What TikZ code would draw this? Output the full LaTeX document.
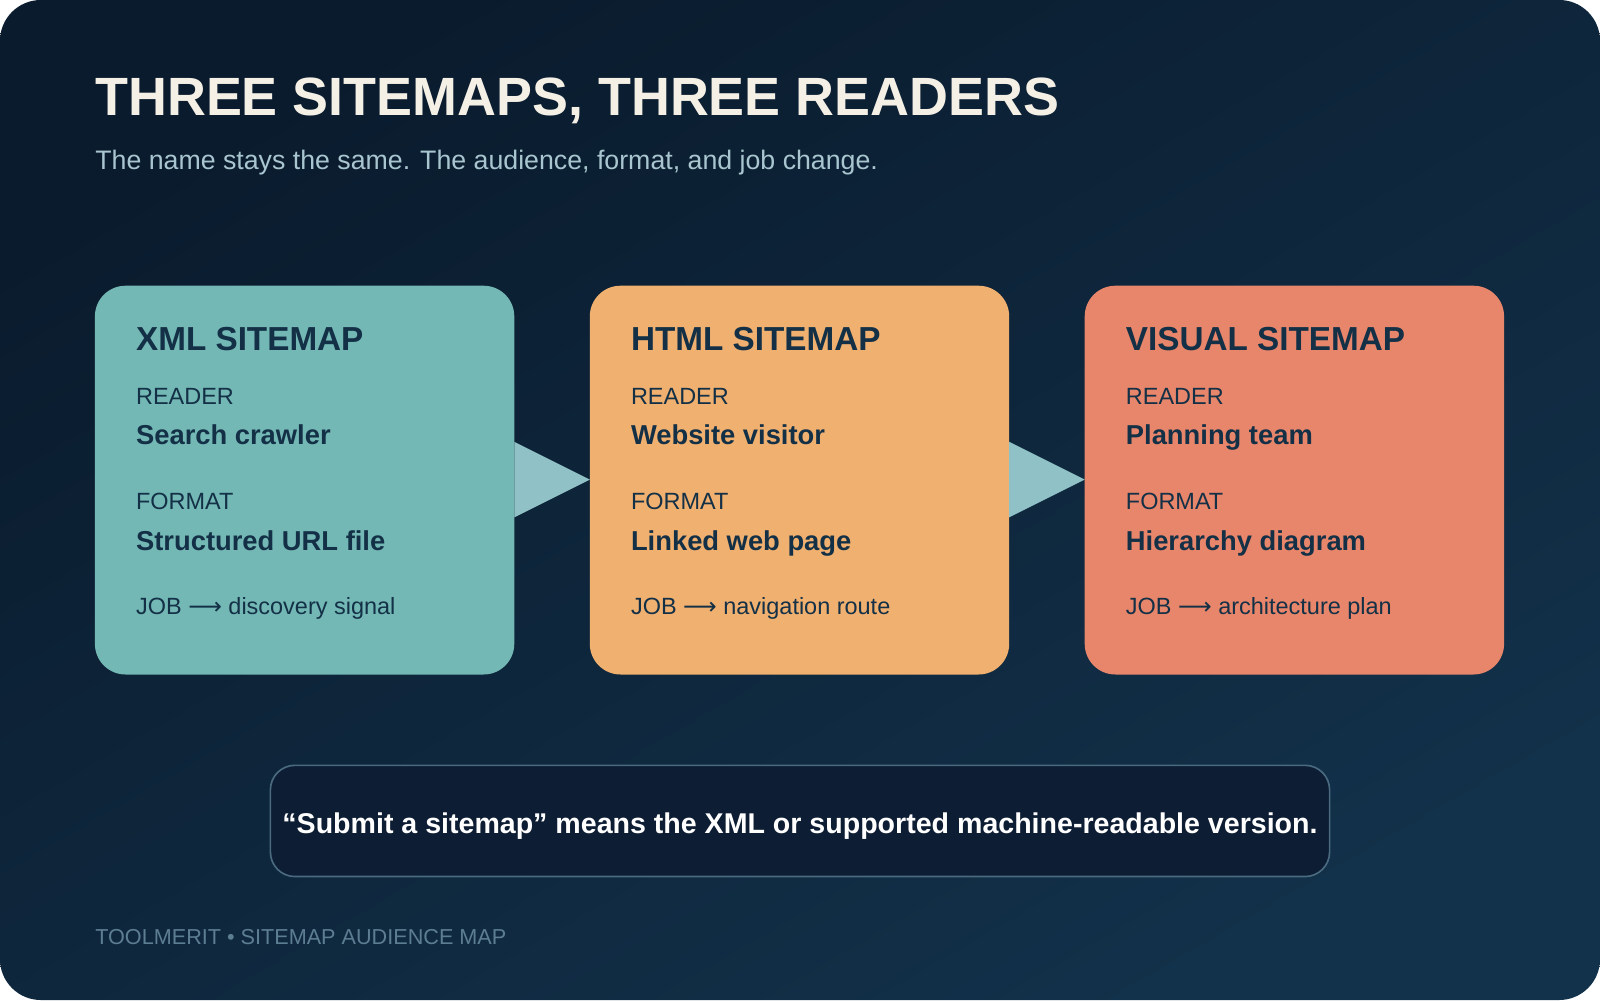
\documentclass[tikz,border=0pt]{standalone}
\usepackage{fontspec}
\setmainfont{Liberation Sans}
\newfontfamily\dejavu{DejaVu Sans}
\begin{document}
\definecolor{bgA}{HTML}{0A1B2D}
\definecolor{bgB}{HTML}{12314A}
\definecolor{ttl}{HTML}{F5F0E6}
\definecolor{sub}{HTML}{A9C6D0}
\definecolor{ink}{HTML}{133046}
\definecolor{cteal}{HTML}{73B8B5}
\definecolor{corange}{HTML}{F0B070}
\definecolor{ccoral}{HTML}{E8866B}
\definecolor{arr}{HTML}{8FC1C6}
\definecolor{note}{HTML}{0D1D33}
\definecolor{noteb}{HTML}{4A6A80}
\definecolor{foot}{HTML}{5D7D92}
\begin{tikzpicture}[x=0.5pt,y=-0.5pt,
  card/.style={rounded corners=15pt,draw=none},
  head/.style={anchor=base west,inner sep=0,text=ink,font=\fontsize{16.3}{18}\selectfont\bfseries},
  lab/.style={anchor=base west,inner sep=0,text=ink,font=\fontsize{11.5}{13}\selectfont},
  val/.style={anchor=base west,inner sep=0,text=ink,font=\fontsize{13.4}{15}\selectfont\bfseries},
  tri/.style={fill=arr,draw=none}]
\useasboundingbox (0,0) rectangle (1568,980);
\shade[rounded corners=20pt,top color=bgA,bottom color=bgB,shading angle=30] (0,0) rectangle (1568,980);
\node[anchor=base west,inner sep=0,text=ttl,font=\fontsize{26.4}{30}\selectfont\bfseries] (title) at (93,113) {THREE SITEMAPS, THREE READERS};
\node[anchor=base west,inner sep=0,text=sub,font=\fontsize{13.1}{15}\selectfont] (subt) at (93,166) {The name stays the same. The audience, format, and job change.};
\foreach \n/\x/\c/\h/\r/\f/\j in {xml/93/cteal/XML SITEMAP/Search crawler/Structured URL file/discovery signal,
  html/578/corange/HTML SITEMAP/Website visitor/Linked web page/navigation route,
  vis/1063/ccoral/VISUAL SITEMAP/Planning team/Hierarchy diagram/architecture plan}{
  \fill[card,fill=\c] (\x,280) rectangle ++(411,381);
  \node[inner sep=0,minimum width=205.5pt,minimum height=190.5pt,anchor=north west] (\n) at (\x,280) {};
  \node[head] (\n-h) at (\x+40,343) {\h};
  \node[lab] (\n-r) at (\x+40,396) {READER};
  \node[val] (\n-rv) at (\x+40,436) {\r};
  \node[lab] (\n-f) at (\x+40,499) {FORMAT};
  \node[val] (\n-fv) at (\x+40,539) {\f};
  \node[lab] (\n-j) at (\x+40,602) {JOB {\dejavu\fontsize{11.5}{13}\selectfont ⟶} \j};
}
\fill[tri] (504,433) -- (578,470) -- (504,507) -- cycle;
\fill[tri] (989,433) -- (1063,470) -- (989,507) -- cycle;
\draw[rounded corners=12pt,fill=note,draw=noteb,line width=0.8pt] (265,750) rectangle (1303,859);
\node[anchor=base,inner sep=0,text=white,font=\fontsize{14}{15}\selectfont\bfseries] (note) at (784,817) {“Submit a sitemap” means the XML or supported machine-readable version.};
\node[anchor=base west,inner sep=0,text=foot,font=\fontsize{10.6}{12}\selectfont] (foot) at (93,926) {TOOLMERIT • SITEMAP AUDIENCE MAP};
\end{tikzpicture}
\end{document}
